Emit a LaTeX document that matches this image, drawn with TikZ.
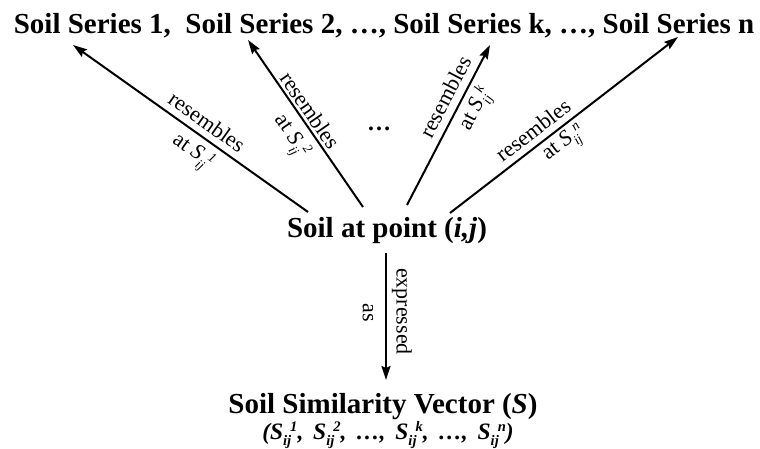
\documentclass[tikz,border=0pt]{standalone}
\usepackage{fontspec}
\setmainfont{Liberation Serif}
\usetikzlibrary{arrows.meta}
\newcommand\Sij[1]{\textit{S}\rlap{\raisebox{-0.28em}{\scalebox{0.62}{\itshape ij}}}\kern0.3em\raisebox{0.3em}{\scalebox{0.62}{\itshape #1}}}
\begin{document}
\begin{tikzpicture}[x=1pt,y=1pt,
  big/.style={font=\fontsize{29}{32}\selectfont\bfseries, inner sep=0pt, anchor=base},
  lbl/.style={font=\fontsize{22}{24}\selectfont, inner sep=0pt, sloped, anchor=center},
  arr/.style={line width=2pt, -{Stealth[length=14pt,width=9pt,inset=2pt]}}]
\useasboundingbox (0,0) rectangle (760,-449);
% nodes
\node[big] (title) at (384,-34) {Soil Series 1,\ \ Soil Series 2, \ldots, Soil Series k, \ldots, Soil Series n};
\node[big] (pt) at (387,-237) {Soil at point (\textit{i,j})};
\node[big] (vec) at (383,-413) {Soil Similarity Vector (\textit{S})};
\node[inner sep=0pt, anchor=base, font=\fontsize{23.5}{24}\selectfont\bfseries\itshape] (vals) at (388,-439) {(\Sij{1},\, \Sij{2},\, \ldots,\, \Sij{k},\, \ldots,\, \Sij{n})};
\node[inner sep=0pt, anchor=base, font=\fontsize{24}{26}\selectfont\bfseries] (dots) at (379,-131) {\ldots};
% arrow tips below the series names
\coordinate (tip1) at (73,-45);
\coordinate (tip2) at (248,-40);
\coordinate (tip3) at (490,-45);
\coordinate (tip4) at (678,-37);
% connectors
\draw[arr] ([shift={(-79,25)}]pt.base) -- (tip1)
  node[lbl, pos=0.466, yshift=15pt] {resembles}
  node[lbl, pos=0.446, yshift=-19pt] {at \Sij{1}};
\draw[arr] ([shift={(-24,30)}]pt.base) -- (tip2)
  node[lbl, pos=0.542, yshift=11.5pt] {resembles}
  node[lbl, pos=0.488, yshift=-20pt] {at \Sij{2}};
\draw[arr] ([shift={(20,32)}]pt.base) -- (tip3)
  node[lbl, pos=0.63, yshift=16pt] {resembles}
  node[lbl, pos=0.648, yshift=-18pt] {at \Sij{k}};
\draw[arr] ([shift={(63,24)}]pt.base) -- (tip4)
  node[lbl, pos=0.404, yshift=15pt] {resembles}
  node[lbl, pos=0.46, yshift=-16pt] {at \Sij{n}};
\draw[arr] ([shift={(-1,-16)}]pt.base) -- ([shift={(3,33)}]vec.base)
  node[lbl, pos=0.46, yshift=16pt] {expressed}
  node[lbl, pos=0.47, yshift=-18pt] {as};
\end{tikzpicture}
\end{document}
